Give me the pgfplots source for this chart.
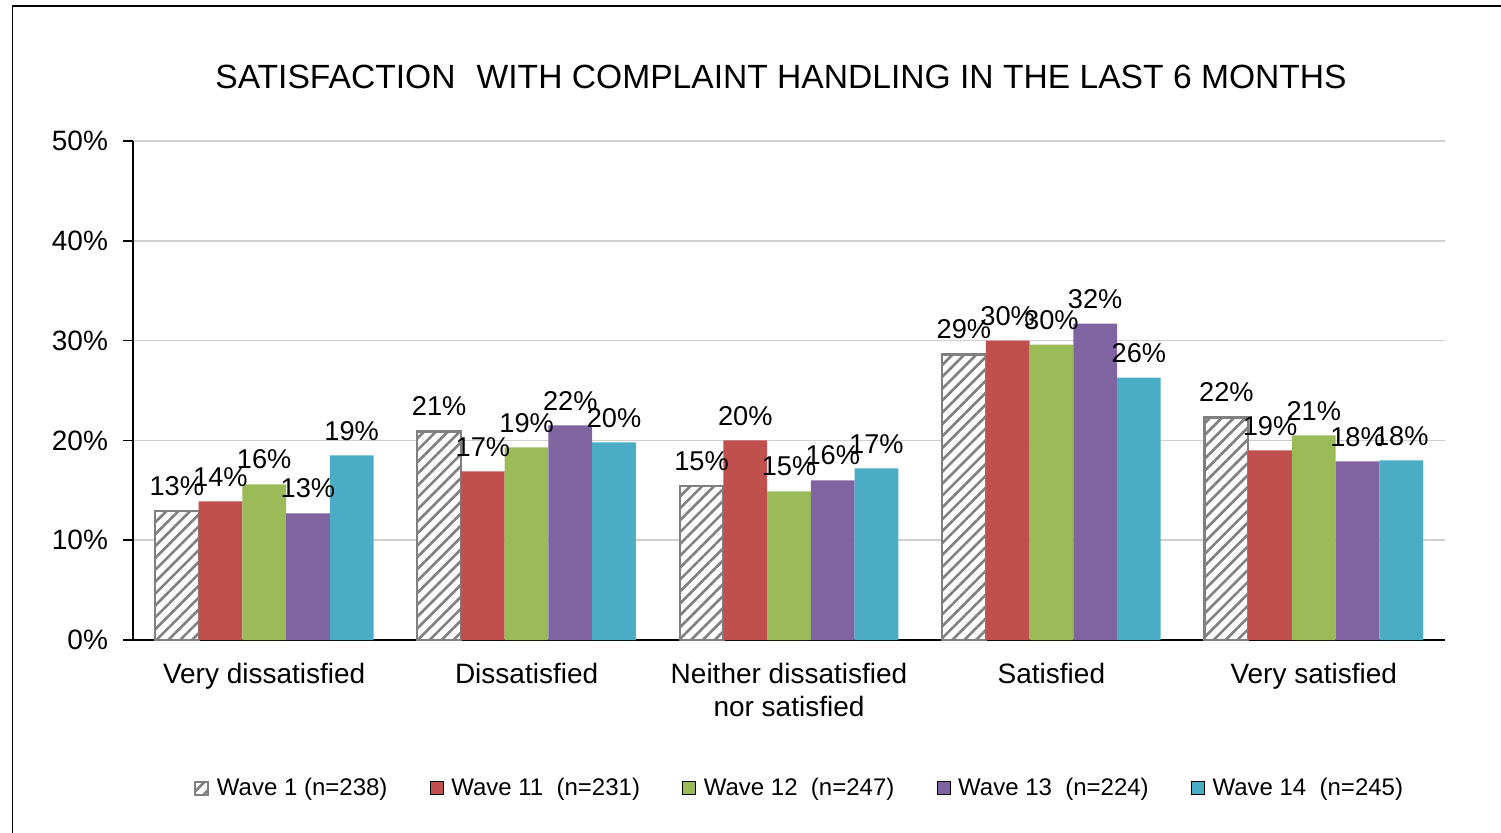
\documentclass[border=0pt]{standalone}
\usepackage{fontspec}
\setmainfont{Liberation Sans}
\usepackage{pgfplots}
\pgfplotsset{compat=1.18}
\usetikzlibrary{patterns.meta}
\definecolor{w11}{HTML}{C0504D}
\definecolor{w12}{HTML}{9BBB59}
\definecolor{w13}{HTML}{8064A2}
\definecolor{w14}{HTML}{4BACC6}
\definecolor{hatch}{HTML}{808080}
\definecolor{gridc}{HTML}{D0D0D0}
\begin{document}
\begin{tikzpicture}
\useasboundingbox (0,0) rectangle (750.5pt,416pt);
\draw[line width=0.9pt] (6.25pt,-20pt) -- (6.25pt,413pt) -- (770pt,413pt);
\node[font=\fontsize{16.8}{20}\selectfont, inner sep=0pt] at (390.5pt,377.5pt) {SATISFACTION\hspace{0.35em} WITH COMPLAINT HANDLING IN THE LAST 6 MONTHS};
\begin{axis}[
  at={(66.5pt,96pt)}, anchor=south west,
  scale only axis, width=656pt, height=249.5pt,
  xmin=-0.5, xmax=4.5, ymin=0, ymax=50,
  axis x line*=bottom, axis y line*=left,
  axis line style={black, line width=0.8pt},
  ybar, bar width=0.1667,
  xtick={0,1,2,3,4},
  xticklabels={Very dissatisfied, Dissatisfied, {Neither dissatisfied\\nor satisfied}, Satisfied, Very satisfied},
  xticklabel style={font=\fontsize{14}{16.5}\selectfont, align=center, yshift=-3pt},
  x tick style={draw=none},
  minor xtick={-0.5,0.5,1.5,2.5,3.5,4.5},
  minor x tick style={black, line width=0.8pt},
  minor tick length=4pt,
  ytick={0,10,20,30,40,50},
  yticklabels={0\%,10\%,20\%,30\%,40\%,50\%},
  yticklabel style={font=\fontsize{14}{16}\selectfont, xshift=-4pt},
  y tick style={black, line width=0.8pt},
  major tick length=5pt,
  tick align=outside,
  ymajorgrids, grid style={gridc, line width=0.8pt},
  point meta=explicit symbolic,
  nodes near coords,
  every node near coord/.append style={font=\fontsize{13.6}{15}\selectfont, black, anchor=south, yshift=4pt},
  legend columns=5,
  legend style={at={(0.5087,-0.297)}, anchor=center, draw=none, font=\fontsize{12}{14}\selectfont,
    /tikz/every even column/.append style={column sep=19.2pt}},
  legend image code/.code={\draw[#1] (0pt,-3.25pt) rectangle (6.5pt,3.25pt); \path (8.5pt,0pt);},
]
\addplot[bar shift=-0.3333, draw=hatch, line width=1.1pt, fill=white, postaction={pattern={Lines[angle=45,distance=4.2pt,line width=1.3pt]}, pattern color=hatch}]
  coordinates {(0,12.9)[13\%] (1,20.9)[21\%] (2,15.4)[15\%] (3,28.6)[29\%] (4,22.3)[22\%]};
\addplot[bar shift=-0.1667, draw=none, fill=w11]
  coordinates {(0,13.9)[14\%] (1,16.9)[17\%] (2,20.0)[20\%] (3,30.0)[30\%] (4,19.0)[19\%]};
\addplot[bar shift=0, draw=none, fill=w12]
  coordinates {(0,15.6)[16\%] (1,19.3)[19\%] (2,14.9)[15\%] (3,29.6)[30\%] (4,20.5)[21\%]};
\addplot[bar shift=0.1667, draw=none, fill=w13]
  coordinates {(0,12.7)[13\%] (1,21.5)[22\%] (2,16.0)[16\%] (3,31.7)[32\%] (4,17.9)[18\%]};
\addplot[bar shift=0.3333, draw=none, fill=w14]
  coordinates {(0,18.5)[19\%] (1,19.8)[20\%] (2,17.2)[17\%] (3,26.3)[26\%] (4,18.0)[18\%]};
\legend{Wave 1 (n=238), Wave 11\ \ (n=231), Wave 12\ \ (n=247), Wave 13\ \ (n=224), Wave 14\ \ (n=245)}
\end{axis}
\end{tikzpicture}
\end{document}
